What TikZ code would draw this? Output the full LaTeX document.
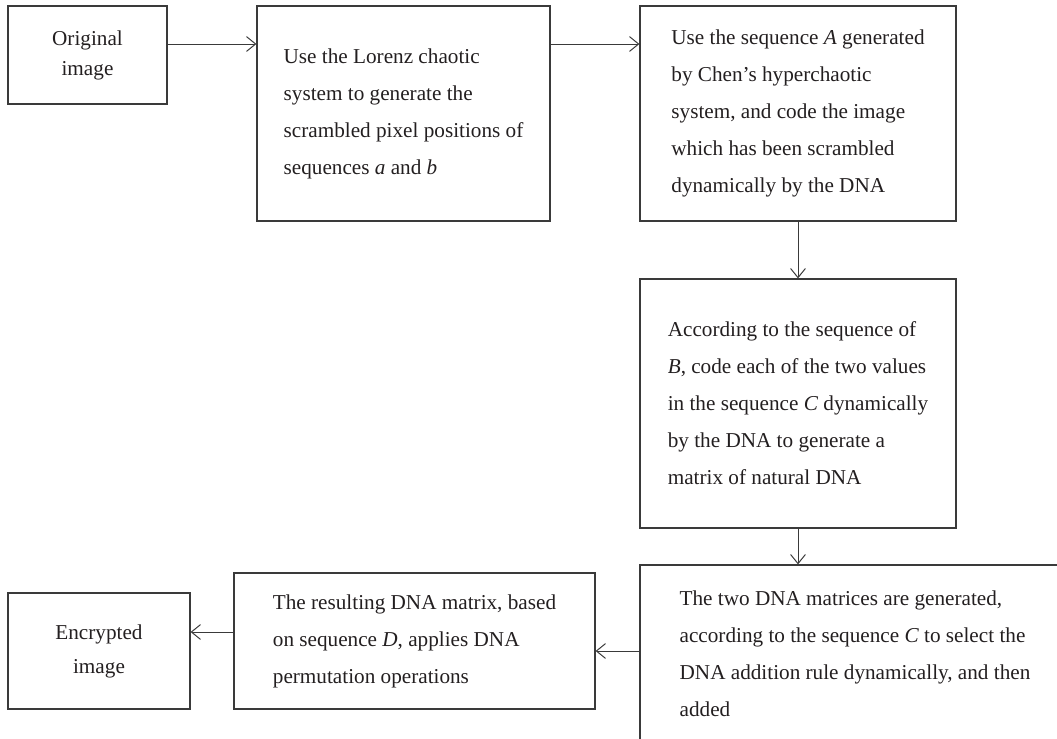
\documentclass[tikz,border=0pt]{standalone}
\usepackage{fontspec}
\setmainfont{Liberation Serif}
\usetikzlibrary{arrows.meta,positioning,calc}
\definecolor{ink}{HTML}{231F20}
\definecolor{edge}{HTML}{3A3A3A}

\begin{document}
\begin{tikzpicture}[x=0.5pt,y=-0.5pt,
  font=\fontsize{10.6}{18.5}\selectfont,
  box/.style={draw=edge,line width=0.6pt,text=ink,align=left,inner sep=0pt},
  arr/.style={-{Straight Barb[length=1.6mm,width=2.6mm]},draw=edge,line width=0.5pt}]
\useasboundingbox (0,0) rectangle (1057,739);
\clip (0,0) rectangle (1057,739);
\node[box,align=center,font=\fontsize{10.6}{15}\selectfont,minimum width=79.5pt,minimum height=49pt] (orig) at (87.5,55) {Original\\image};
\node[box,minimum width=146.5pt,minimum height=107.5pt] (lorenz) at (403.5,113.5)
  {Use the Lorenz chaotic\\system to generate the\\scrambled pixel positions of\\sequences \textit{a} and \textit{b}};
\node[box,minimum width=158pt,minimum height=107.5pt] (chen) at (798,113.5)
  {Use the sequence \textit{A} generated\\by Chen's hyperchaotic\\system, and code the image\\which has been scrambled\\dynamically by the DNA};
\node[box,minimum width=158pt,minimum height=124.5pt] (natural) at (798,403.5)
  {According to the sequence of\\\textit{B}, code each of the two values\\in the sequence \textit{C} dynamically\\by the DNA to generate a\\matrix of natural DNA};
\node[box,minimum width=215pt,minimum height=89pt] (addition) at (855,654)
  {The two DNA matrices are generated,\\according to the sequence \textit{C} to select the\\DNA addition rule dynamically, and then\\added};
\node[box,minimum width=180.5pt,minimum height=68pt] (perm) at (414.5,641)
  {The resulting DNA matrix, based\\on sequence \textit{D}, applies DNA\\permutation operations};
\node[box,align=center,font=\fontsize{10.6}{17}\selectfont,minimum width=91pt,minimum height=58pt] (encr) at (99,651) {Encrypted\\image};
% connectors
\draw[arr] (orig.east |- 0,44) -- (lorenz.west |- 0,44);
\draw[arr] (lorenz.east |- 0,44) -- (chen.west |- 0,44);
\draw[arr] (chen.south) -- (natural.north);
\draw[arr] (natural.south) -- (natural.south |- addition.north);
\draw[arr] (addition.west |- 0,651) -- (perm.east |- 0,651);
\draw[arr] (perm.west |- 0,632) -- (encr.east |- 0,632);
\end{tikzpicture}
\end{document}
